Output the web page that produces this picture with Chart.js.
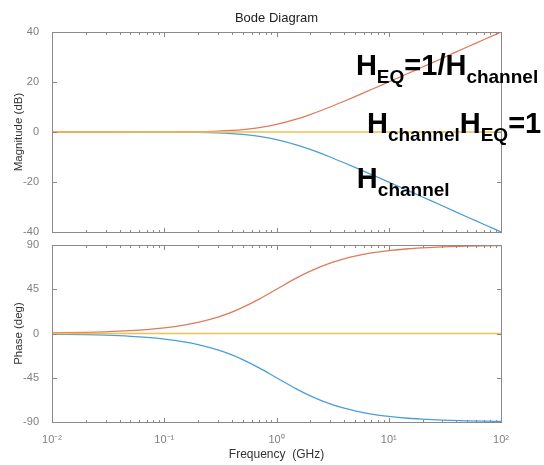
<!DOCTYPE html>
<html>
<head>
<meta charset="utf-8">
<script src="https://cdn.jsdelivr.net/npm/chart.js@4.4.1/dist/chart.umd.min.js"></script>
<style>
  html, body { margin: 0; padding: 0; background: #ffffff; }
  #wrap { position: relative; width: 544px; height: 465px; overflow: hidden; }
  #c1box { position: absolute; left: 0; top: 0; width: 544px; height: 240px; }
  #c2box { position: absolute; left: 0; top: 240px; width: 544px; height: 225px; }
</style>
</head>
<body>
<div id="wrap">
  <div id="c1box"><canvas id="c1"></canvas></div>
  <div id="c2box"><canvas id="c2"></canvas></div>
</div>
<script>
// ---------- data ----------
const freqGHz = [0.01, 0.02, 0.03, 0.05, 0.07, 0.1, 0.15, 0.2, 0.3, 0.4, 0.5, 0.7, 1, 1.5, 2, 3, 4, 5, 7, 10, 15, 20, 30, 50, 70, 100];

const magHeq     = [0.00, 0.00, 0.00, 0.01, 0.02, 0.04, 0.10, 0.17, 0.37, 0.64, 0.97, 1.73, 3.01, 5.12, 6.99, 10.0, 12.3, 14.15, 17.0, 20.04, 23.5, 26.0, 29.5, 34.0, 36.9, 40.0];
const magHchannel= [0.00, 0.00, 0.00, -0.01, -0.02, -0.04, -0.10, -0.17, -0.37, -0.64, -0.97, -1.73, -3.01, -5.12, -6.99, -10.0, -12.3, -14.15, -17.0, -20.04, -23.5, -26.0, -29.5, -34.0, -36.9, -40.0];
const magProduct = [0, 0, 0, 0, 0, 0, 0, 0, 0, 0, 0, 0, 0, 0, 0, 0, 0, 0, 0, 0, 0, 0, 0, 0, 0, 0];

const phHeq      = [0.57, 1.15, 1.72, 2.86, 4.0, 5.71, 8.53, 11.3, 16.7, 21.8, 26.6, 35.0, 45.0, 56.3, 63.4, 71.6, 76.0, 78.7, 81.9, 84.3, 86.2, 87.1, 88.1, 88.9, 89.2, 89.4];
const phHchannel = [-0.57, -1.15, -1.72, -2.86, -4.0, -5.71, -8.53, -11.3, -16.7, -21.8, -26.6, -35.0, -45.0, -56.3, -63.4, -71.6, -76.0, -78.7, -81.9, -84.3, -86.2, -87.1, -88.1, -88.9, -89.2, -89.4];
const phProduct  = [0, 0, 0, 0, 0, 0, 0, 0, 0, 0, 0, 0, 0, 0, 0, 0, 0, 0, 0, 0, 0, 0, 0, 0, 0, 0];

const xMajorTicks = [0.01, 0.1, 1, 10, 100];
const xTickLabels = ['10\u207B\u00B2', '10\u207B\u00B9', '10\u2070', '10\u00B9', '10\u00B2'];
const magTicks = [-40, -20, 0, 20, 40];
const phaseTicks = [-90, -45, 0, 45, 90];

const titleText = 'Bode Diagram';
const magLabel = 'Magnitude (dB)';
const phaseLabel = 'Phase (deg)';
const freqLabel = 'Frequency  (GHz)';

// annotation texts: anchor in data coordinates (GHz, dB)
const annotations = [
  { x: 5.1, y: 22.8, parts: [['H', 0], ['EQ', 1], ['=1/H', 0], ['channel', 1]] },
  { x: 6.4, y: -0.4, parts: [['H', 0], ['channel', 1], ['H', 0], ['EQ', 1], ['=1', 0]] },
  { x: 5.2, y: -22.4, parts: [['H', 0], ['channel', 1]] }
];

// ---------- style ----------
const COL_BLUE = '#4a9fd6';
const COL_ORANGE = '#e07a5a';
const COL_YELLOW = '#f0c050';
const AXIS_COL = '#8a8a8a';
const TICK_TXT = '#808080';
const FONT = "'Liberation Sans', Arial, Helvetica, sans-serif";

function pts(ys) { return freqGHz.map((f, i) => ({ x: f, y: ys[i] })); }

function makeDatasets(prod, heq, hch) {
  return [
    { label: 'product', data: pts(prod), borderColor: COL_YELLOW, borderWidth: 1.6 },
    { label: 'Heq', data: pts(heq), borderColor: COL_ORANGE, borderWidth: 1.3 },
    { label: 'Hchannel', data: pts(hch), borderColor: COL_BLUE, borderWidth: 1.3 }
  ].map(d => Object.assign(d, { pointRadius: 0, fill: false, tension: 0.4, cubicInterpolationMode: 'monotone' }));
}

// inward MATLAB-style ticks + box
const boxTicks = {
  id: 'boxTicks',
  afterDraw(chart) {
    const ctx = chart.ctx, a = chart.chartArea;
    const xs = chart.scales.x, ys = chart.scales.y;
    ctx.save();
    ctx.strokeStyle = AXIS_COL;
    ctx.lineWidth = 1;
    const L = Math.round(a.left) + 0.5, R = Math.round(a.right) + 0.5;
    const T = Math.round(a.top) + 0.5, B = Math.round(a.bottom) + 0.5;
    ctx.strokeRect(L, T, R - L, B - T);
    ctx.beginPath();
    for (let e = -2; e <= 2; e++) {
      for (let m = 1; m <= 9; m++) {
        const v = m * Math.pow(10, e);
        if (v > 100.0001) break;
        const px = Math.round(xs.getPixelForValue(v)) + 0.5;
        const len = (m === 1) ? 4.5 : 2.5;
        ctx.moveTo(px, B); ctx.lineTo(px, B - len);
        ctx.moveTo(px, T); ctx.lineTo(px, T + len);
      }
    }
    ys.ticks.forEach(t => {
      const py = Math.round(ys.getPixelForValue(t.value)) + 0.5;
      ctx.moveTo(L, py); ctx.lineTo(L + 4.5, py);
      ctx.moveTo(R, py); ctx.lineTo(R - 4.5, py);
    });
    ctx.stroke();
    ctx.restore();
  }
};

// chart title centred over the plot box
const boxTitle = {
  id: 'boxTitle',
  afterDraw(chart) {
    const t = chart.options.plugins.boxTitle && chart.options.plugins.boxTitle.text;
    if (!t) return;
    const ctx = chart.ctx, a = chart.chartArea;
    ctx.save();
    ctx.fillStyle = '#222222';
    ctx.font = '13px ' + FONT;
    ctx.textAlign = 'center';
    ctx.textBaseline = 'middle';
    ctx.fillText(t, (a.left + a.right) / 2, a.top - 14);
    ctx.restore();
  }
};

// big annotation text with subscripts
const annot = {
  id: 'annot',
  afterDraw(chart) {
    const list = chart.options.plugins.annot && chart.options.plugins.annot.items;
    if (!list) return;
    const ctx = chart.ctx, xs = chart.scales.x, ys = chart.scales.y;
    ctx.save();
    ctx.fillStyle = '#000000';
    ctx.textBaseline = 'alphabetic';
    ctx.textAlign = 'left';
    list.forEach(it => {
      let x = xs.getPixelForValue(it.x);
      const y = ys.getPixelForValue(it.y);
      it.parts.forEach(([t, sub]) => {
        ctx.font = sub ? 'bold 19px ' + FONT : 'bold 29px ' + FONT;
        ctx.fillText(t, x, sub ? y + 8 : y);
        x += ctx.measureText(t).width;
      });
    });
    ctx.restore();
  }
};

function xScale(showLabels) {
  return {
    type: 'logarithmic', min: 0.01, max: 100,
    grid: { display: false },
    border: { display: false },
    afterBuildTicks(s) { s.ticks = xMajorTicks.map(v => ({ value: v })); },
    afterFit(s) { s.height = showLabels ? 43 : 0; s.paddingLeft = 0; s.paddingRight = 0; },
    ticks: {
      display: showLabels, autoSkip: false, maxRotation: 0, padding: 3,
      color: TICK_TXT, font: { family: FONT, size: 11 },
      callback(v) { const i = xMajorTicks.findIndex(t => Math.abs(t - v) / t < 1e-6); return i >= 0 ? xTickLabels[i] : ''; }
    },
    title: { display: showLabels, text: freqLabel, color: '#333333', font: { family: FONT, size: 12 }, padding: { top: 0, bottom: 3 } }
  };
}

function yScale(min, max, ticks, label) {
  return {
    type: 'linear', min: min, max: max,
    grid: { display: false },
    border: { display: false },
    afterBuildTicks(s) { s.ticks = ticks.map(v => ({ value: v })); },
    afterFit(s) { s.width = 52; s.paddingTop = 0; s.paddingBottom = 0; },
    ticks: { padding: 5, color: TICK_TXT, font: { family: FONT, size: 11 }, callback: v => String(v) },
    title: { display: true, text: label, color: '#333333', font: { family: FONT, size: 11.5 }, padding: { top: 12, bottom: 0 } }
  };
}

Chart.defaults.animation = false;

new Chart(document.getElementById('c1'), {
  type: 'line',
  data: { datasets: makeDatasets(magProduct, magHeq, magHchannel) },
  options: {
    responsive: true, maintainAspectRatio: false, animation: false,
    layout: { padding: { left: 0, right: 43, top: 32, bottom: 8 } },
    plugins: {
      legend: { display: false }, tooltip: { enabled: false }, title: { display: false },
      boxTitle: { text: titleText },
      annot: { items: annotations }
    },
    scales: { x: xScale(false), y: yScale(-40, 40, magTicks, magLabel) }
  },
  plugins: [boxTicks, boxTitle, annot]
});

new Chart(document.getElementById('c2'), {
  type: 'line',
  data: { datasets: makeDatasets(phProduct, phHeq, phHchannel) },
  options: {
    responsive: true, maintainAspectRatio: false, animation: false,
    layout: { padding: { left: 0, right: 43, top: 5, bottom: 0 } },
    plugins: { legend: { display: false }, tooltip: { enabled: false } },
    scales: { x: xScale(true), y: yScale(-90, 90, phaseTicks, phaseLabel) }
  },
  plugins: [boxTicks]
});
</script>
</body>
</html>
